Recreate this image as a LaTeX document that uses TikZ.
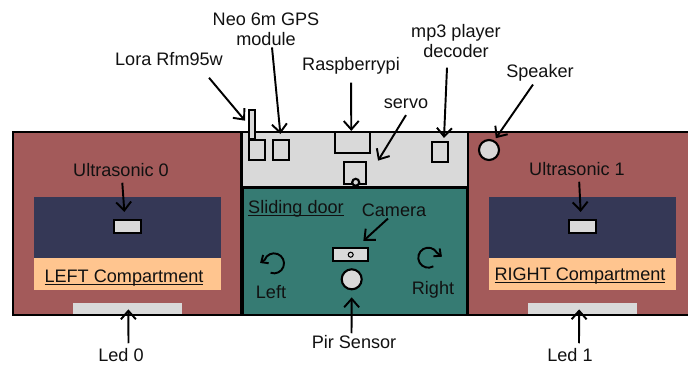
\documentclass[tikz,border=0pt]{standalone}
\usepackage{fontspec}
\setmainfont{Liberation Sans}
\usetikzlibrary{arrows.meta}
\definecolor{wall}{HTML}{A35A5A}
\definecolor{navy}{HTML}{353856}
\definecolor{peach}{HTML}{FFC58F}
\definecolor{door}{HTML}{367B73}
\definecolor{part}{HTML}{D9D9D9}
\definecolor{ink}{HTML}{111111}
\newcommand{\ruled}[1]{\vphantom{Ag}\underline{\smash{#1}}}
\begin{document}
\begin{tikzpicture}[>={Straight Barb[length=1.7mm,width=3mm]},
  font=\fontsize{10.3}{11.3}\selectfont, text=ink,
  tag/.style={inner sep=1pt,align=center},
  part/.style={draw=black,line width=1.2pt,fill=part,inner sep=0pt,minimum width=#1},
  disc/.style={draw=black,circle,line width=1.2pt,fill=part,inner sep=0pt,minimum size=#1},
  led/.style={fill=part,inner sep=0pt,minimum height=2.4mm,minimum width=21.9mm},
  wire/.style={->,line width=1.1pt},
  turn/.style={-{Straight Barb[length=1.1mm,width=2mm]},line width=1.1pt},
  rim/.style={draw=black,line width=1.2pt}]
\useasboundingbox (0,0) rectangle (13.76,7.32);
% Housing first, so that the parts can sit on top of it.
\fill[wall] (.26,1.02) rectangle (4.83,4.685);
\fill[wall] (9.36,1.02) rectangle (13.8,4.685);
\fill[part] (4.83,3.586) rectangle (9.36,4.685);
\fill[door] (4.85,1.02) rectangle (9.34,3.56);
\fill[navy] (.68,2.16) rectangle (4.41,3.374);
\fill[peach] (.68,1.52) rectangle (4.41,2.16);
\fill[navy] (9.78,2.16) rectangle (13.52,3.374);
\fill[peach] (9.78,1.52) rectangle (13.52,2.16);
\node[led] (led0) at (2.547,1.14) {};
\node[led] (led1) at (11.653,1.14) {};
\draw[rim] (.26,1.02) rectangle (4.83,4.685);
\draw[rim] (4.85,1.02) rectangle (9.34,3.56);
\draw[rim] (9.36,1.02) -- (13.8,1.02);
\draw[rim] (13.8,4.685) -- (4.83,4.685);
\draw[rim] (9.36,1.02) -- (9.36,4.685);

\node[part=.53cm,minimum height=.26cm] (ultra0) at (2.547,2.79) {};
\node[part=.53cm,minimum height=.26cm] (ultra1) at (11.653,2.79) {};
\node[part=.314cm,minimum height=.4cm] (lorabox) at (5.143,4.32) {};
\node[part=.108cm,minimum height=.58cm] (antenna) at (5.04,4.83) {};
\node[part=.314cm,minimum height=.4cm] (gpsbox) at (5.617,4.32) {};
\node[part=.7cm,minimum height=.42cm] (pibox) at (7.056,4.47) {};
\node[part=.32cm,minimum height=.4cm] (mp3box) at (8.8,4.28) {};
\node[part=.44cm,minimum height=.446cm] (servobox) at (7.1,3.863) {};
\node[disc=.14cm] (horn) at (7.114,3.674) {};
\node[part=.7cm,minimum height=.26cm] (cambox) at (7.016,2.23) {};
\node[draw=black,circle,line width=.6pt,inner sep=0pt,minimum size=.1cm] (lens) at (7.014,2.226) {};
\node[disc=.4cm] (pir) at (7.034,1.734) {};
\node[disc=.4cm] (speakerdisc) at (9.78,4.32) {};

\node[tag] (gps) at (5.32,6.74) {Neo 6m GPS\\module};
\node[tag] (lora) at (3.38,6.14) {Lora Rfm95w};
\node[tag] (pi) at (7.02,6) {Raspberrypi};
\node[tag] (mp3) at (9.12,6.5) {mp3 player\\decoder};
\node[tag] (speaker) at (10.8,5.86) {Speaker};
\node[tag] (servo) at (8.12,5.24) {servo};
\node[tag] (sonic0) at (2.42,3.92) {Ultrasonic 0};
\node[tag] (sonic1) at (11.54,3.94) {Ultrasonic 1};
\node[tag] (sliding) at (5.92,3.14) {\ruled{Sliding door}};
\node[tag] (camera) at (7.88,3.12) {Camera};
\node[tag] (left) at (5.42,1.48) {Left};
\node[tag] (right) at (8.66,1.52) {Right};
\node[tag] (leftbay) at (2.48,1.76) {\ruled{LEFT Compartment}};
\node[tag] (rightbay) at (11.6,1.8) {\ruled{RIGHT Compartment}};
\node[tag] (ledtext0) at (2.42,.22) {Led 0};
\node[tag] (ledtext1) at (11.4,.22) {Led 1};
\node[tag] (pirtext) at (7.08,.48) {Pir Sensor};

\draw[wire,shorten >=.1cm] ([shift={(.8,-.2)}]lora.south) -- (antenna.west);
\draw[wire,shorten >=.1cm] ([xshift=.12cm]gps.south) -- (gpsbox.north);
\draw[wire,shorten <=.12cm] (pi.south) -- ([xshift=-.03cm]pibox.north);
\draw[wire] ([shift={(-.18,-.16)}]mp3.south) -- ([shift={(.08,.06)}]mp3box.north);
\draw[wire] ([shift={(-.14,-.02)}]speaker.south) -- ([shift={(-.02,.08)}]speakerdisc.north east);
\draw[wire] ([yshift=-.08cm]servo.south) -- ([xshift=.22cm]servobox.north east);
\draw[wire,shorten <=.08cm] ([xshift=.02cm]sonic0.south) -- ([xshift=-.06cm,yshift=.14cm]ultra0.north);
\draw[wire,shorten <=.08cm] ([xshift=.04cm]sonic1.south) -- ([xshift=-.04cm,yshift=.14cm]ultra1.north);
\draw[wire] ([xshift=.15cm,yshift=.06cm]ledtext0.north) -- ([xshift=.02cm,yshift=.12cm]led0.south);
\draw[wire] ([xshift=.18cm,yshift=.06cm]ledtext1.north) -- ([xshift=-.07cm,yshift=.12cm]led1.south);
\draw[wire] ([xshift=-.05cm]pirtext.north) -- ([yshift=-.14cm]pir.south);
\draw[wire] ([xshift=-.12cm]camera.south) -- ([shift={(-.12,.12)}]cambox.north east);

% Turning directions of the door.
\draw[turn] (5.48,2.053) ++(250:.2) arc[start angle=250,end angle=520,radius=.2] -- ++(-.09,-.06);
\draw[turn] (8.566,2.166) ++(-60:.2) arc[start angle=-60,end angle=-330,radius=.2] -- ++(.1,-.08);
\end{tikzpicture}
\end{document}
